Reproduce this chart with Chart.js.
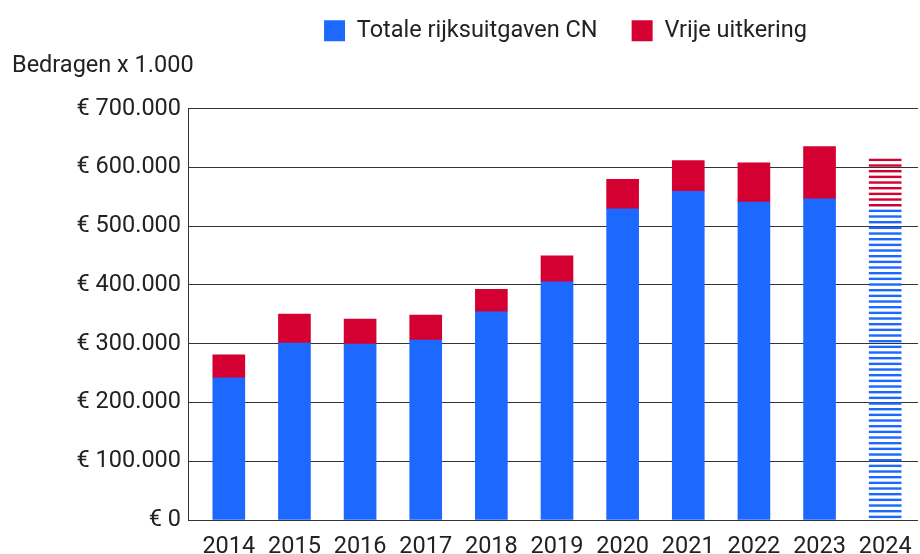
<!DOCTYPE html>
<html>
<head>
<meta charset="utf-8">
<script src="https://cdn.jsdelivr.net/npm/chart.js@4/dist/chart.umd.min.js"></script>
<style>
html,body{margin:0;padding:0;background:#fff;}
#wrap{width:920px;height:554px;position:relative;}
</style>
</head>
<body>
<div id="wrap"><canvas id="c" width="920" height="554"></canvas></div>
<script>
const years = ['2014','2015','2016','2017','2018','2019','2020','2021','2022','2023','2024'];
const rijksuitgavenCN = [242000, 301000, 299500, 306000, 354500, 405500, 529500, 559500, 541000, 546500, 533000];
const vrijeUitkering = [39000, 49500, 42500, 42800, 38000, 44200, 50500, 52100, 66700, 88900, 82000];
const seriesNames = ['Totale rijksuitgaven CN', 'Vrije uitkering'];
const yTickValues = [0, 100000, 200000, 300000, 400000, 500000, 600000, 700000];

const BLUE = '#1d69ff';
const RED = '#d50032';
const TEXT = '#222222';
const FONT = 'Roboto';
const FS = 23.5;

function stripePattern(color) {
  const c = document.createElement('canvas');
  c.width = 8; c.height = 17;
  const g = c.getContext('2d');
  g.fillStyle = color;
  [0, 5.67, 11.33].forEach(y => g.fillRect(0, y, 8, 2.4));
  return g.createPattern(c, 'repeat');
}

function fillsFor(color) {
  const pat = stripePattern(color);
  return years.map((y, i) => i === years.length - 1 ? pat : color);
}

function fmt(v) {
  const s = String(Math.round(v)).replace(/\B(?=(\d{3})+(?!\d))/g, '.');
  return '€ ' + s;
}

const axisLine = {
  id: 'axisLine',
  afterLayout(chart) {
    if (chart.legend) { chart.legend.left += 8.5; chart.legend.right += 8.5; }
  },
  afterDatasetsDraw(chart) {
    const {ctx, chartArea, scales} = chart;
    const x = Math.round(chartArea.left - 8) + 0.5;
    ctx.save();
    ctx.strokeStyle = '#333';
    ctx.lineWidth = 1;
    ctx.beginPath();
    ctx.moveTo(x, scales.y.getPixelForValue(700000));
    ctx.lineTo(x, scales.y.getPixelForValue(0));
    ctx.stroke();
    ctx.restore();
  }
};

new Chart(document.getElementById('c'), {
  type: 'bar',
  data: {
    labels: years,
    datasets: [
      { label: seriesNames[0], data: rijksuitgavenCN, backgroundColor: fillsFor(BLUE), barThickness: 32, borderWidth: 0 },
      { label: seriesNames[1], data: vrijeUitkering, backgroundColor: fillsFor(RED), barThickness: 32, borderWidth: 0 }
    ]
  },
  options: {
    responsive: false,
    animation: false,
    layout: { padding: { left: 12, right: 2, top: -15, bottom: 0 } },
    plugins: {
      legend: {
        position: 'top',
        fullSize: false,
        weight: 3000,
        labels: {
          color: TEXT,
          font: { family: FONT, size: FS },
          boxWidth: 21,
          boxHeight: 21,
          padding: 34,
          generateLabels(chart) {
            return chart.data.datasets.map((d, i) => ({
              text: d.label, fillStyle: i === 0 ? BLUE : RED, strokeStyle: 'transparent', lineWidth: 0, datasetIndex: i, fontColor: TEXT
            }));
          }
        }
      },
      title: {
        display: true,
        text: 'Bedragen x 1.000',
        align: 'start',
        color: TEXT,
        weight: 500,
        font: { family: FONT, size: FS, weight: 'normal' },
        padding: { top: 0, bottom: 28 }
      },
      tooltip: { enabled: false }
    },
    scales: {
      x: {
        stacked: true,
        grid: { display: false },
        border: { display: false },
        afterFit(scale) { scale.height = 34; },
        ticks: { color: TEXT, font: { family: FONT, size: FS }, padding: 5, maxRotation: 0 }
      },
      y: {
        stacked: true,
        min: 0,
        max: 700000,
        afterBuildTicks(scale) { scale.ticks = yTickValues.map(v => ({ value: v })); },
        afterFit(scale) { scale.width = 184; },
        grid: { color: '#333', lineWidth: 1, drawTicks: true, tickLength: 8 },
        border: { display: false },
        ticks: { color: TEXT, font: { family: FONT, size: FS }, padding: 7, callback: v => fmt(v) }
      }
    }
  },
  plugins: [axisLine]
});
</script>
</body>
</html>
